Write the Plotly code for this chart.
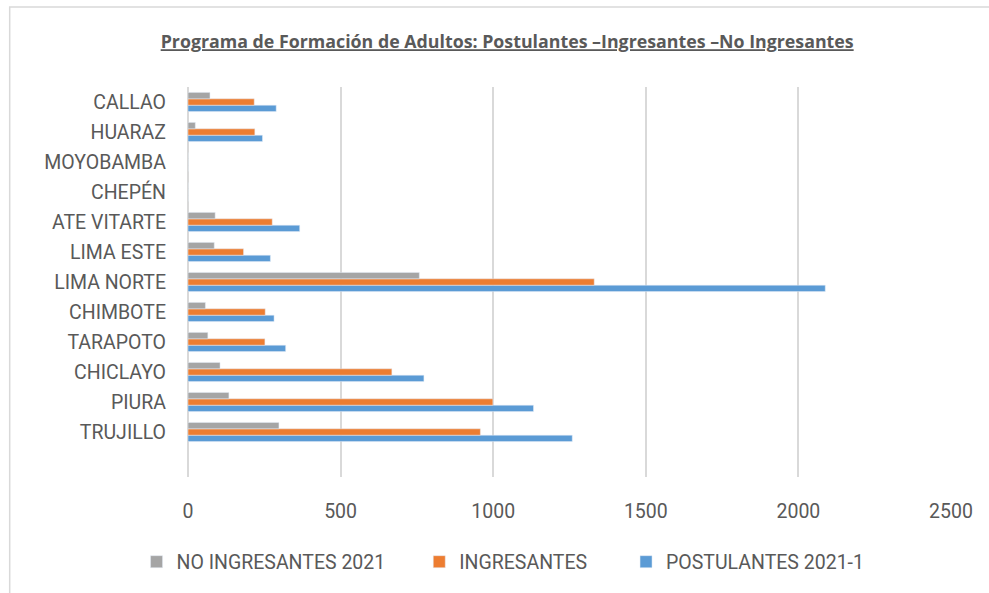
import plotly.graph_objects as go

# Sedes, listed bottom to top as drawn on the category axis
sedes = ["TRUJILLO", "PIURA", "CHICLAYO", "TARAPOTO", "CHIMBOTE", "LIMA NORTE",
         "LIMA ESTE", "ATE VITARTE", "CHEPÉN", "MOYOBAMBA", "HUARAZ", "CALLAO"]

postulantes = [1259, 1132, 773, 320, 282, 2088, 270, 366, 0, 0, 244, 289]
ingresantes = [958, 999, 668, 252, 253, 1331, 182, 276, 0, 0, 219, 217]
no_ingresantes = [298, 134, 105, 65, 57, 758, 86, 89, 0, 0, 24, 72]

x_ticks = [0, 500, 1000, 1500, 2000, 2500]

TEXT = "#595959"
GRID = "#D9D9D9"
FONT = "Roboto"
FS = 19.5

L, R, T, B = 187.5, 37.7, 87, 116
W, H = 989, 593
pw, ph = W - L - R, H - T - B

fig = go.Figure()
fig.add_trace(go.Bar(y=sedes, x=postulantes, orientation="h",
                     name="POSTULANTES 2021-1", marker_color="#5B9BD5",
                     legend="legend"))
fig.add_trace(go.Bar(y=sedes, x=ingresantes, orientation="h",
                     name="INGRESANTES", marker_color="#ED7D31",
                     legend="legend2"))
fig.add_trace(go.Bar(y=sedes, x=no_ingresantes, orientation="h",
                     name="NO INGRESANTES 2021", marker_color="#A5A5A5",
                     legend="legend3"))


def legend_at(px_left):
    return dict(
        orientation="h",
        x=(px_left - L) / pw, xanchor="left",
        y=-(562 - (T + ph)) / ph, yanchor="middle",
        font=dict(family=FONT, size=FS, color=TEXT), itemwidth=30,
        bgcolor="rgba(0,0,0,0)",
    )


fig.update_layout(
    width=W, height=H,
    margin=dict(l=L, r=R, t=T, b=B, autoexpand=False),
    paper_bgcolor="white", plot_bgcolor="white",
    barmode="group", bargap=0.36, bargroupgap=0,
    font=dict(family=FONT, color=TEXT, size=FS),
    title=dict(
        text="<b><u>Programa de Formación de Adultos: Postulantes –Ingresantes –No Ingresantes</u></b>",
        x=(507 - L) / pw, xref="paper", xanchor="center",
        y=1 - 42 / H, yref="container", yanchor="middle",
        font=dict(family="Open Sans", size=17.8, color=TEXT),
    ),
    xaxis=dict(
        range=[0, 2500], tickvals=x_ticks, ticktext=[str(v) for v in x_ticks],
        showgrid=True, gridcolor=GRID, gridwidth=1.5,
        zeroline=True, zerolinecolor=GRID, zerolinewidth=1.5,
        showline=False, ticks="", ticklabelstandoff=20,
        tickfont=dict(size=FS, color=TEXT), fixedrange=True,
    ),
    yaxis=dict(
        type="category", categoryorder="array", categoryarray=sedes,
        range=[-1.5, 11.5], showgrid=False, zeroline=False, showline=False,
        ticks="", ticklabelstandoff=21,
        tickfont=dict(size=FS, color=TEXT), fixedrange=True,
    ),
    legend=legend_at(626),
    legend2=legend_at(419),
    legend3=legend_at(136),
    showlegend=True,
)

# Outer chart frame
fig.add_shape(type="rect", xref="paper", yref="paper",
              x0=(9 - L) / pw, x1=(1030 - L) / pw,
              y0=-(640 - (T + ph)) / ph, y1=(T + ph - 7) / ph,
              line=dict(color=GRID, width=1.5), fillcolor="rgba(0,0,0,0)",
              layer="below")

fig.write_html("out.html")
